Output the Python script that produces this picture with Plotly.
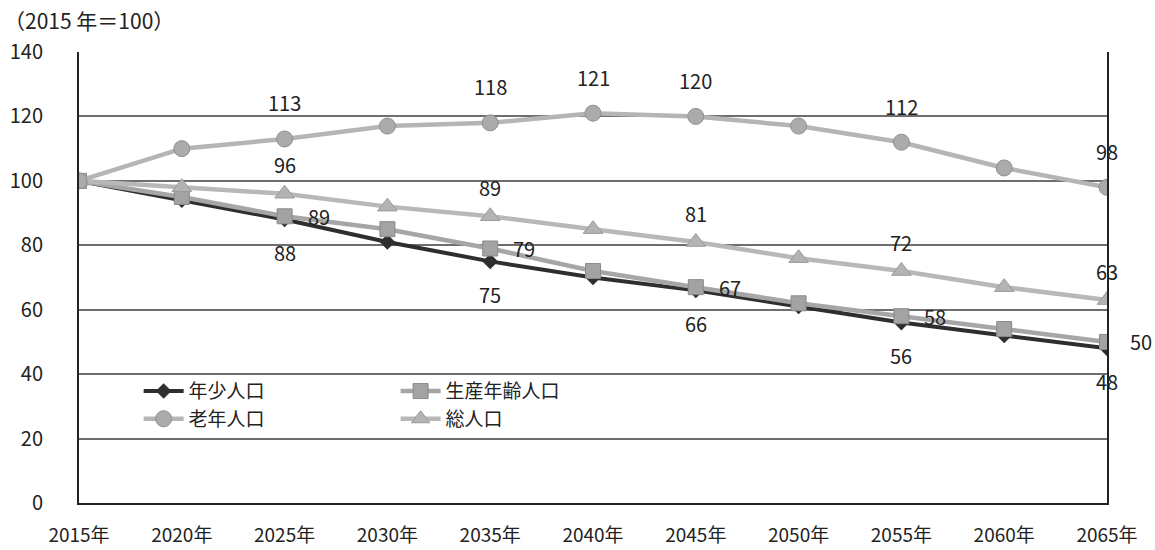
import plotly.graph_objects as go

years = ["2015年", "2020年", "2025年", "2030年", "2035年", "2040年",
         "2045年", "2050年", "2055年", "2060年", "2065年"]

youth = [100, 94, 88, 81, 75, 70, 66, 61, 56, 52, 48]          # 年少人口
working = [100, 95, 89, 85, 79, 72, 67, 62, 58, 54, 50]        # 生産年齢人口
elderly = [100, 110, 113, 117, 118, 121, 120, 117, 112, 104, 98]  # 老年人口
total = [100, 98, 96, 92, 89, 85, 81, 76, 72, 67, 63]          # 総人口

youth_lbl = [2, 4, 6, 8, 10]
working_lbl = [2, 4, 6, 8, 10]
elderly_lbl = [2, 4, 5, 6, 8, 10]
total_lbl = [2, 4, 6, 8, 10]

y_ticks = [0, 20, 40, 60, 80, 100, 120, 140]

FONT = "Noto Sans CJK JP, Noto Sans, sans-serif"
TXT = "#222222"

fig = go.Figure()

fig.add_trace(go.Scatter(
    x=years, y=youth, name="年少人口", mode="lines+markers",
    line=dict(color="#2e2e2e", width=4),
    marker=dict(symbol="diamond", size=12, color="#2e2e2e"),
    legend="legend"))
fig.add_trace(go.Scatter(
    x=years, y=working, name="生産年齢人口", mode="lines+markers",
    line=dict(color="#a6a6a6", width=4.5),
    marker=dict(symbol="square", size=15, color="#a3a3a3",
                line=dict(color="#8a8a8a", width=1)),
    legend="legend2"))
fig.add_trace(go.Scatter(
    x=years, y=total, name="総人口", mode="lines+markers",
    line=dict(color="#b8b8b8", width=4.5),
    marker=dict(symbol="triangle-up", size=17, color="#b3b3b3",
                line=dict(color="#9a9a9a", width=1)),
    legend="legend2"))
fig.add_trace(go.Scatter(
    x=years, y=elderly, name="老年人口", mode="lines+markers",
    line=dict(color="#b5b5b5", width=4.5),
    marker=dict(symbol="circle", size=16, color="#ababab",
                line=dict(color="#8f8f8f", width=1)),
    legend="legend"))

ann = []
def add_labels(vals, idxs, xs=0, ys=0):
    for i in idxs:
        ann.append(dict(x=years[i], y=vals[i], text=str(vals[i]),
                        showarrow=False, xshift=xs, yshift=ys,
                        font=dict(family=FONT, size=20, color=TXT)))

add_labels(elderly, elderly_lbl, ys=36)
add_labels(total, total_lbl, ys=29)
add_labels(working, working_lbl, xs=34)
add_labels(youth, youth_lbl, ys=-33)

ann.append(dict(xref="paper", yref="paper", x=-0.075, y=1.0, yshift=32,
                xanchor="left", yanchor="middle", showarrow=False,
                text="（2015 年＝100）",
                font=dict(family=FONT, size=21, color=TXT)))

fig.update_layout(
    width=1155, height=550,
    margin=dict(l=79, r=48, t=52, b=47),
    paper_bgcolor="white", plot_bgcolor="white",
    font=dict(family=FONT, size=20, color=TXT),
    annotations=ann,
    legend=dict(x=0.058, y=0.29, xanchor="left", yanchor="top",
                bgcolor="rgba(0,0,0,0)", font=dict(size=19, color=TXT),
                tracegroupgap=0, itemwidth=40),
    legend2=dict(x=0.308, y=0.29, xanchor="left", yanchor="top",
                 bgcolor="rgba(0,0,0,0)", font=dict(size=19, color=TXT),
                 tracegroupgap=0, itemwidth=40, traceorder="normal"),
)

fig.update_xaxes(
    type="category", range=[0, 10], showgrid=False, automargin=False,
    showline=True, linecolor="#222222", linewidth=2, mirror=False,
    ticks="", ticklabelstandoff=14,
    tickfont=dict(family=FONT, size=19, color=TXT))
fig.update_yaxes(
    range=[0, 140], tickvals=y_ticks, showgrid=True, automargin=False,
    gridcolor="#6e6e6e", gridwidth=1.5, zeroline=False,
    showline=True, linecolor="#222222", linewidth=2, mirror=True,
    ticks="", ticklabelstandoff=30,
    tickfont=dict(family=FONT, size=20, color=TXT))

fig.write_html("out.html",
               config={"displayModeBar": False},
               post_script="document.body.style.margin='0';"
                           "document.body.style.overflow='hidden';")
